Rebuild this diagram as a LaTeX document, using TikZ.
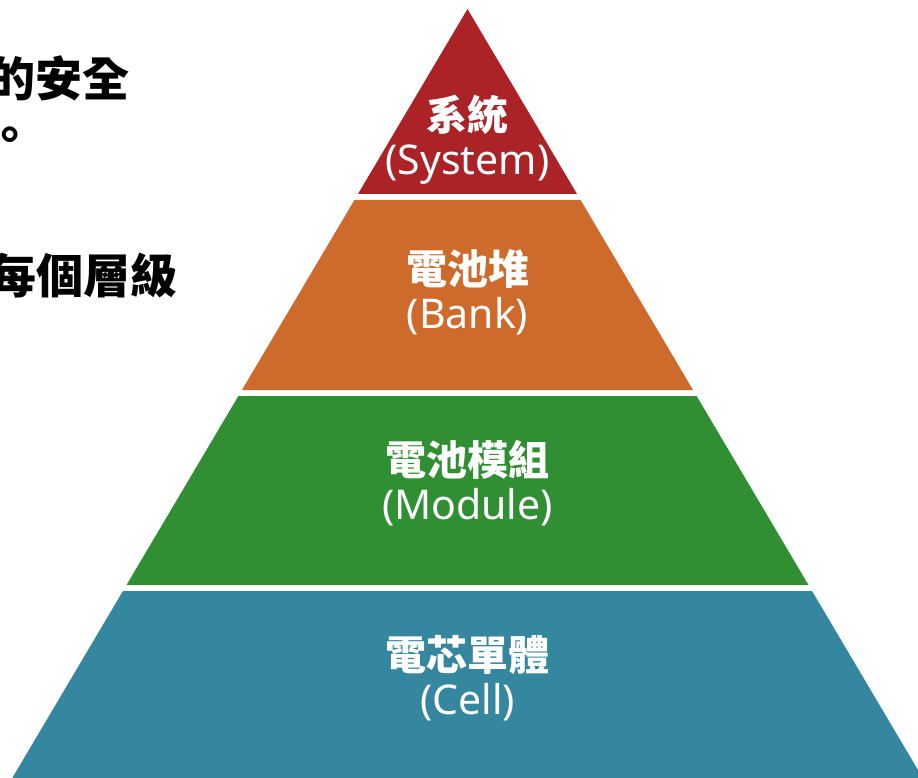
\documentclass[tikz,border=0pt]{standalone}
\usepackage{fontspec}
\setmainfont{Noto Sans}
\newfontfamily\cjk{Noto Sans CJK TC}
\usetikzlibrary{positioning}

\definecolor{sysred}{RGB}{172,35,39}
\definecolor{bankorange}{RGB}{206,107,44}
\definecolor{modgreen}{RGB}{48,143,50}
\definecolor{cellblue}{RGB}{52,135,158}

\begin{document}
\begin{tikzpicture}[
  x=1pt, y=-1pt,
  tier/.style={text=white, align=center, inner sep=0pt,
    font=\fontsize{41}{44}\selectfont},
  sidetext/.style={text=black, inner sep=0pt, anchor=east,
    font=\cjk\bfseries\fontsize{47}{50}\selectfont}
]
  \useasboundingbox (0,0) rectangle (918,778);
  \clip (0,0) rectangle (918,778);

  % pyramid layers, apex at (467.5,9)
  \foreach \ytop/\ybot/\col in {9/194/sysred, 200/390/bankorange,
                                396/585/modgreen, 591/800/cellblue}{
    \fill[\col] ({467.5-0.592*(\ytop-9)},\ytop) -- ({467.5+0.592*(\ytop-9)},\ytop)
      -- ({467.5+0.592*(\ybot-9)},\ybot) -- ({467.5-0.592*(\ybot-9)},\ybot) -- cycle;
  }

  \node[tier] (sys)    at (467.5,140) {{\cjk\bfseries 系統}\\(System)};
  \node[tier] (bank)   at (467.5,292) {{\cjk\bfseries 電池堆}\\(Bank)};
  \node[tier] (module) at (467.5,483) {{\cjk\bfseries 電池模組}\\(Module)};
  \node[tier] (cell)   at (467.5,678) {{\cjk\bfseries 電芯單體}\\(Cell)};

  % cut-off text on the left
  \node[sidetext] (line1) at (130,78)  {的安全};
  \node[sidetext] (line2) at (34,140)  {。};
  \node[sidetext] (line3) at (178,276) {每個層級};
\end{tikzpicture}
\end{document}
